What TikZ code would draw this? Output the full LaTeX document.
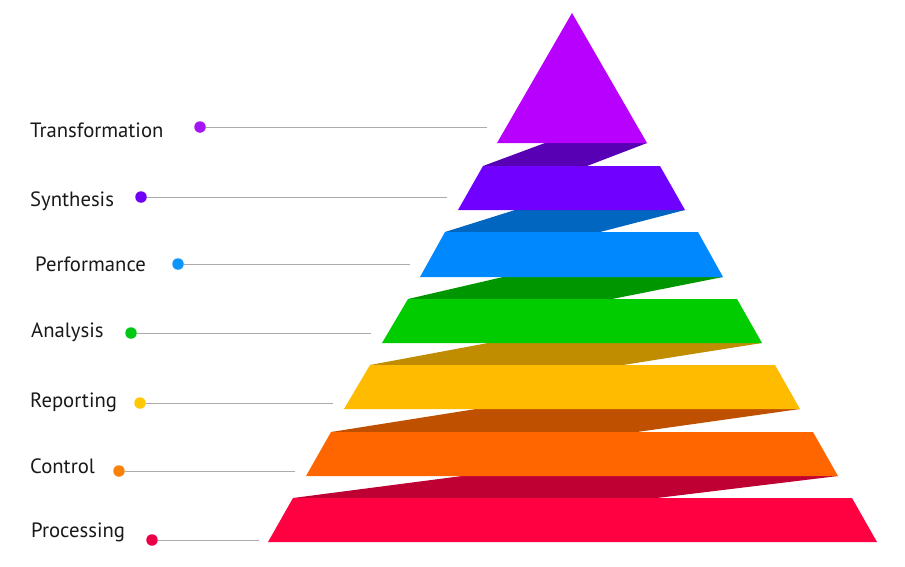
\documentclass[tikz,border=0pt]{standalone}
\usepackage{fontspec}
\setmainfont{PT Sans}
\begin{document}
\begin{tikzpicture}[x=1pt,y=-1pt,
  lbl/.style={anchor=base west,inner sep=0pt,font=\fontsize{20.7}{24}\selectfont,text=black!90},
  dotnode/.style={circle,inner sep=0pt,minimum size=11.5pt},
  leader/.style={draw=black!33,line width=0.8pt}]
\useasboundingbox (0,0) rectangle (905,566);
\definecolor{cTri}{RGB}{184,0,255}
\definecolor{sTri}{RGB}{88,0,180}
\definecolor{cSyn}{RGB}{112,0,255}
\definecolor{sSyn}{RGB}{0,102,192}
\definecolor{cPer}{RGB}{0,136,255}
\definecolor{sPer}{RGB}{0,150,0}
\definecolor{cAna}{RGB}{0,204,0}
\definecolor{sAna}{RGB}{192,140,0}
\definecolor{cRep}{RGB}{255,187,0}
\definecolor{sRep}{RGB}{190,80,0}
\definecolor{cCon}{RGB}{255,102,0}
\definecolor{sCon}{RGB}{190,0,50}
\definecolor{cPro}{RGB}{255,0,64}
\definecolor{dTri}{RGB}{165,20,245}
\definecolor{dSyn}{RGB}{112,0,245}
\definecolor{dPer}{RGB}{10,150,250}
\definecolor{dAna}{RGB}{0,200,20}
\definecolor{dRep}{RGB}{255,200,0}
\definecolor{dCon}{RGB}{250,130,10}
\definecolor{dPro}{RGB}{235,0,70}
% shadows
\fill[sTri] (483,166) -- (545,143) -- (647,143) -- (587,166) -- cycle;
\fill[sSyn] (445,232) -- (515,210) -- (685,210) -- (600,232) -- cycle;
\fill[sPer] (408,299) -- (503,277) -- (723,277) -- (612,299) -- cycle;
\fill[sAna] (370,365) -- (488,343) -- (762,343) -- (623,365) -- cycle;
\fill[sRep] (331,432) -- (476,409) -- (800,409) -- (637,432) -- cycle;
\fill[sCon] (293,498) -- (462,476) -- (838,476) -- (657,498) -- cycle;
% triangle and bands
\fill[cTri] (572,13) -- (647,143) -- (497,143) -- cycle;
\fill[cSyn] (483,166) -- (660,166) -- (685,210) -- (458,210) -- cycle;
\fill[cPer] (445,232) -- (698,232) -- (723,277) -- (420,277) -- cycle;
\fill[cAna] (408,299) -- (737,299) -- (762,343) -- (382,343) -- cycle;
\fill[cRep] (370,365) -- (775,365) -- (800,409) -- (344,409) -- cycle;
\fill[cCon] (331,432) -- (813,432) -- (838,476) -- (306,476) -- cycle;
\fill[cPro] (293,498) -- (852,498) -- (877,542) -- (268,542) -- cycle;
% labels
\node[lbl] (tTri) at (30,137) {Transformation};
\node[lbl] (tSyn) at (30,206) {Synthesis};
\node[lbl] (tPer) at (35,271) {Performance};
\node[lbl] (tAna) at (31,337) {Analysis};
\node[lbl] (tRep) at (30,407) {Reporting};
\node[lbl] (tCon) at (30,473) {Control};
\node[lbl] (tPro) at (31,537) {Processing};
% leader ends
\coordinate (eTri) at (487,127);
\coordinate (eSyn) at (447,197);
\coordinate (ePer) at (410,264);
\coordinate (eAna) at (371,333);
\coordinate (eRep) at (333,403);
\coordinate (eCon) at (295,471);
\coordinate (ePro) at (259,540);
% dots
\node[dotnode,fill=dTri] (pTri) at (200,127) {};
\node[dotnode,fill=dSyn] (pSyn) at (141,197) {};
\node[dotnode,fill=dPer] (pPer) at (178,264) {};
\node[dotnode,fill=dAna] (pAna) at (131,333) {};
\node[dotnode,fill=dRep] (pRep) at (140,403) {};
\node[dotnode,fill=dCon] (pCon) at (119,471) {};
\node[dotnode,fill=dPro] (pPro) at (152,540) {};
\foreach \n in {Tri,Syn,Per,Ana,Rep,Con,Pro}{
  \draw[leader] (p\n) -- (e\n);
}
\end{tikzpicture}
\end{document}
